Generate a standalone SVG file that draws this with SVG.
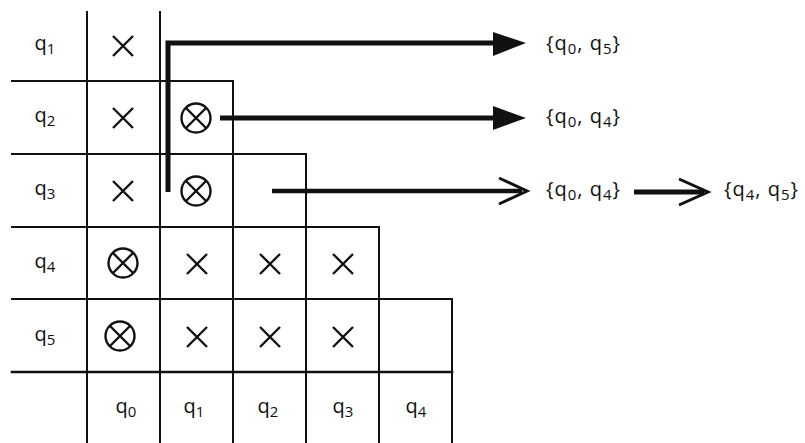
<svg xmlns="http://www.w3.org/2000/svg" width="805" height="443" viewBox="0 0 805 443">
  <style>
    .grid { stroke: #111; stroke-width: 2; fill: none; stroke-linecap: square; }
    .lbl { font-family: "Open Sans", "DejaVu Sans", sans-serif; font-size: 20px; fill: #111; text-anchor: middle; }
    .set { font-family: "Open Sans", "DejaVu Sans", sans-serif; font-size: 20px; fill: #111; letter-spacing: 1px; }
    .sub { font-size: 15px; }
    .mark { stroke: #111; stroke-width: 2.4; fill: none; }
    .flow { stroke: #111; stroke-width: 5; fill: none; }
    .head { fill: #111; }
    .barb { stroke: #111; stroke-width: 3; fill: none; stroke-linejoin: miter; stroke-linecap: butt; }
  </style>
  <defs>
    <g id="cross">
      <path class="mark" d="M-10,-10 L10,10 M10,-10 L-10,10"/>
    </g>
    <g id="ocross">
      <circle class="mark" r="14.5"/>
      <path class="mark" d="M-10,-10 L10,10 M10,-10 L-10,10"/>
    </g>
  </defs>
  <rect width="805" height="443" fill="#fff"/>

  <!-- staircase table of distinguishable state pairs -->
  <g id="grid">
    <path class="grid" d="M87,12 V443 M160,12 V443"/>
    <path class="grid" d="M12,81 H233 V443"/>
    <path class="grid" d="M12,154 H306 V443"/>
    <path class="grid" d="M12,227 H379 V443"/>
    <path class="grid" d="M12,299 H452 V443"/>
    <path class="grid" d="M12,372 H452" style="stroke-width:2.6"/>
  </g>

  <!-- row labels -->
  <g id="row-q1"><text class="lbl" x="45" y="50">q<tspan class="sub" dy="4">1</tspan></text></g>
  <g id="row-q2"><text class="lbl" x="45" y="122">q<tspan class="sub" dy="4">2</tspan></text></g>
  <g id="row-q3"><text class="lbl" x="45" y="195">q<tspan class="sub" dy="4">3</tspan></text></g>
  <g id="row-q4"><text class="lbl" x="45" y="268">q<tspan class="sub" dy="4">4</tspan></text></g>
  <g id="row-q5"><text class="lbl" x="45" y="341">q<tspan class="sub" dy="4">5</tspan></text></g>

  <!-- column labels -->
  <g id="col-q0"><text class="lbl" x="126" y="413">q<tspan class="sub" dy="4">0</tspan></text></g>
  <g id="col-q1"><text class="lbl" x="194" y="413">q<tspan class="sub" dy="4">1</tspan></text></g>
  <g id="col-q2"><text class="lbl" x="268" y="413">q<tspan class="sub" dy="4">2</tspan></text></g>
  <g id="col-q3"><text class="lbl" x="343" y="413">q<tspan class="sub" dy="4">3</tspan></text></g>
  <g id="col-q4"><text class="lbl" x="416" y="413">q<tspan class="sub" dy="4">4</tspan></text></g>

  <!-- cell marks -->
  <g id="cell-1-0"><use href="#cross" x="123" y="46"/></g>
  <g id="cell-2-0"><use href="#cross" x="123" y="118"/></g>
  <g id="cell-2-1"><use href="#ocross" x="196" y="118"/></g>
  <g id="cell-3-0"><use href="#cross" x="123" y="191"/></g>
  <g id="cell-3-1"><use href="#ocross" x="196" y="191"/></g>
  <g id="cell-4-0"><use href="#ocross" x="123" y="263"/></g>
  <g id="cell-4-1"><use href="#cross" x="197" y="264"/></g>
  <g id="cell-4-2"><use href="#cross" x="270" y="264"/></g>
  <g id="cell-4-3"><use href="#cross" x="343" y="264"/></g>
  <g id="cell-5-0"><use href="#ocross" x="120" y="336"/></g>
  <g id="cell-5-1"><use href="#cross" x="197" y="337"/></g>
  <g id="cell-5-2"><use href="#cross" x="270" y="337"/></g>
  <g id="cell-5-3"><use href="#cross" x="343" y="337"/></g>

  <!-- pair sets -->
  <g id="set-q0q5"><text class="set" x="546" y="50">{q<tspan class="sub" dy="4">0</tspan><tspan dy="-4">, q</tspan><tspan class="sub" dy="4">5</tspan><tspan dy="-4">}</tspan></text></g>
  <g id="set-q0q4a"><text class="set" x="546" y="123">{q<tspan class="sub" dy="4">0</tspan><tspan dy="-4">, q</tspan><tspan class="sub" dy="4">4</tspan><tspan dy="-4">}</tspan></text></g>
  <g id="set-q0q4b"><text class="set" x="546" y="196">{q<tspan class="sub" dy="4">0</tspan><tspan dy="-4">, q</tspan><tspan class="sub" dy="4">4</tspan><tspan dy="-4">}</tspan></text></g>
  <g id="set-q4q5"><text class="set" x="724" y="196">{q<tspan class="sub" dy="4">4</tspan><tspan dy="-4">, q</tspan><tspan class="sub" dy="4">5</tspan><tspan dy="-4">}</tspan></text></g>

  <!-- connectors -->
  <g id="connectors">
    <path class="flow" d="M168,192 V43 H498"/>
    <path class="head" d="M493,32 L526,43 L493,56 Z"/>
    <path class="flow" d="M220,118 H498"/>
    <path class="head" d="M493,106 L526,118 L493,130 Z"/>
    <path class="flow" d="M272,191 H522" style="stroke-width:4.5"/>
    <path class="barb" d="M499,178 L527,191 L499,204"/>
    <path class="flow" d="M634,192 H704"/>
    <path class="barb" d="M679,179 L708,192 L679,205"/>
  </g>
</svg>
